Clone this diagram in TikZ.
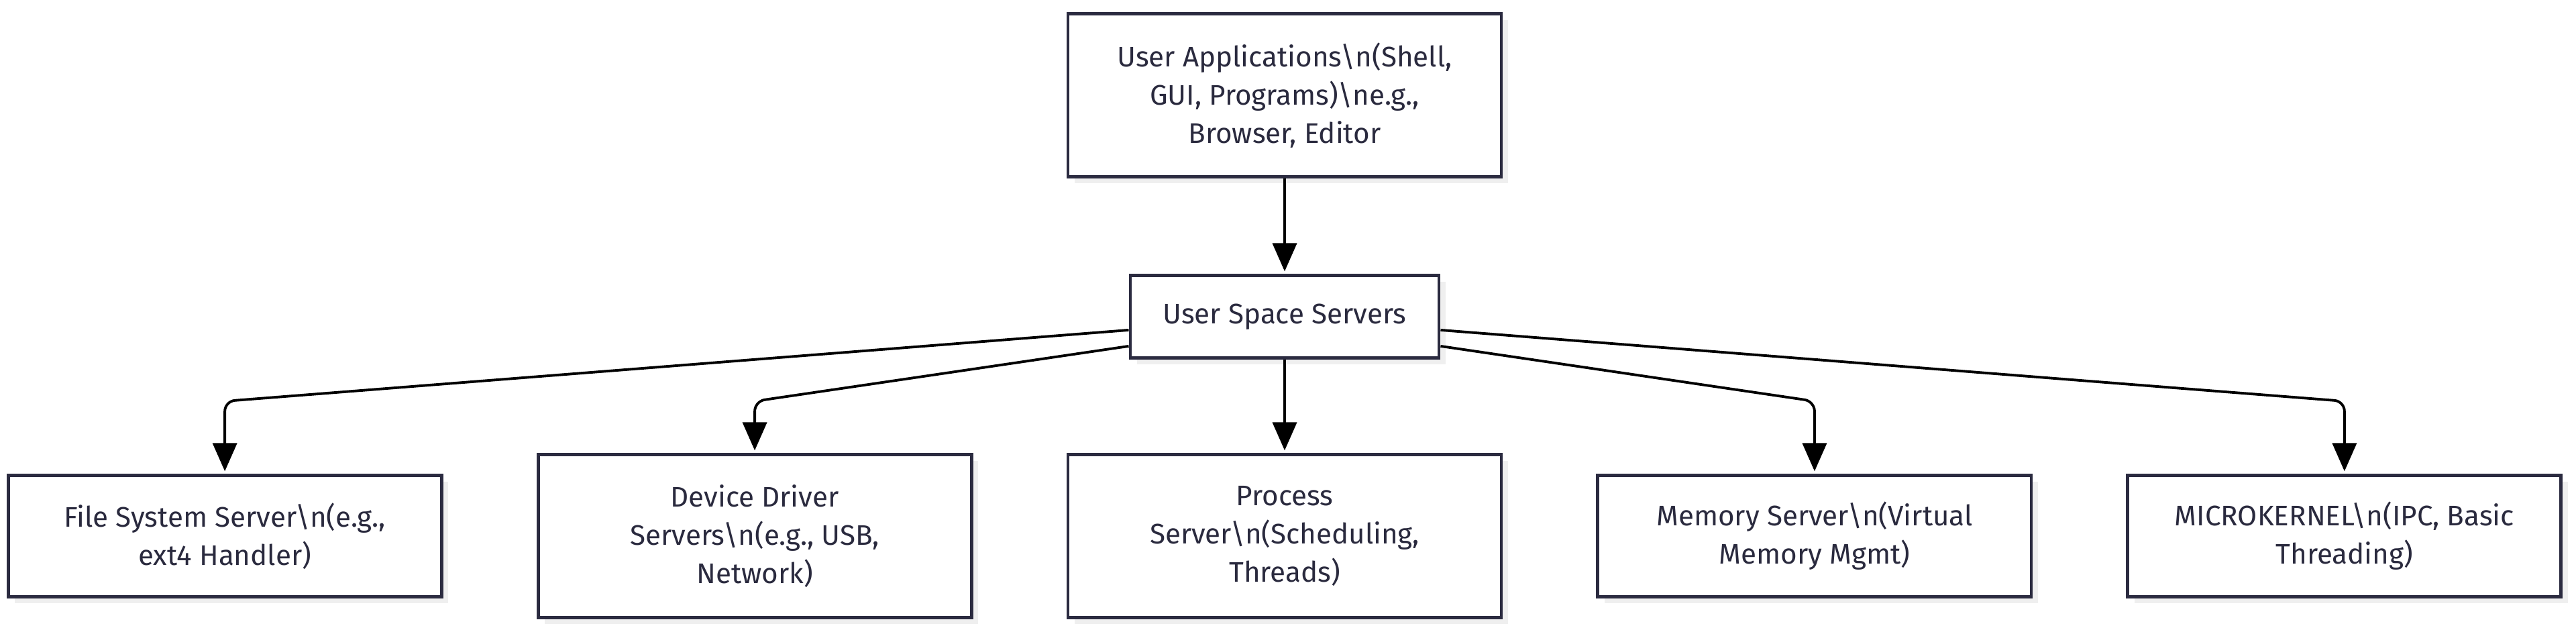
\documentclass[tikz,border=0pt]{standalone}
\usepackage{fontspec}
\setmainfont{Fira Sans}
\usepackage{tikz}
\usetikzlibrary{positioning}
\usetikzlibrary{arrows.meta}
\usetikzlibrary{shadows}

\definecolor{boxline}{HTML}{2B2B40}
\definecolor{boxtext}{HTML}{2A2A3E}
\definecolor{boxshade}{HTML}{EFEFEF}

\begin{document}
\begin{tikzpicture}[
        servnode/.style={rectangle, draw=boxline, fill=white, line width=1.4pt, text=boxtext, align=center, minimum width=6.46cm, font=\fontsize{12}{16.2}\selectfont, drop shadow={shadow xshift=0.1cm, shadow yshift=-0.1cm, fill=boxshade, opacity=1}},
        hubnode/.style={servnode, minimum width=4.6cm, minimum height=1.23cm},
        twonode/.style={servnode, minimum height=1.81cm},
        threenode/.style={servnode, minimum height=2.43cm},
        call/.style={-{Triangle[length=0.42cm, width=0.36cm]}, line width=1.1pt, rounded corners=0.15cm, shorten >=1pt},
        node distance=1.39cm,
        ]
        \useasboundingbox (0,0) rectangle (38.4,9.35);
        %Nodes
        \node[threenode] (apps)  at (19.15,7.93)          {User Applications\textbackslash n(Shell,\\GUI, Programs)\textbackslash ne.g.,\\Browser, Editor};
        \node[hubnode]   (usrv)  [below=1.42cm of apps]  {User Space Servers};
        \node[threenode] (proc)  [below=of usrv]         {Process\\Server\textbackslash n(Scheduling,\\Threads)};
        \node[threenode] (dev)   [left=of proc]          {Device Driver\\Servers\textbackslash n(e.g., USB,\\Network)};
        \node[twonode]   (fs)    [left=of dev]           {File System Server\textbackslash n(e.g.,\\ext4 Handler)};
        \node[twonode]   (mem)   [right=of proc]         {Memory Server\textbackslash n(Virtual\\Memory Mgmt)};
        \node[twonode]   (mk)    [right=of mem]          {MICROKERNEL\textbackslash n(IPC, Basic\\Threading)};
        \coordinate (bend) at (0,3.37);

        %Lines
        \draw[call] (apps.south) -- (usrv.north);
        \draw[call] (usrv.south) -- (proc.north);

        \draw[call] ([yshift=-0.2cm]usrv.west)  -- (fs |- bend)  -- (fs.north);
        \draw[call] ([yshift=-0.44cm]usrv.west) -- (dev |- bend) -- (dev.north);
        \draw[call] ([yshift=-0.44cm]usrv.east) -- (mem |- bend) -- (mem.north);
        \draw[call] ([yshift=-0.2cm]usrv.east)  -- (mk |- bend)  -- (mk.north);
    \end{tikzpicture}
\end{document}
